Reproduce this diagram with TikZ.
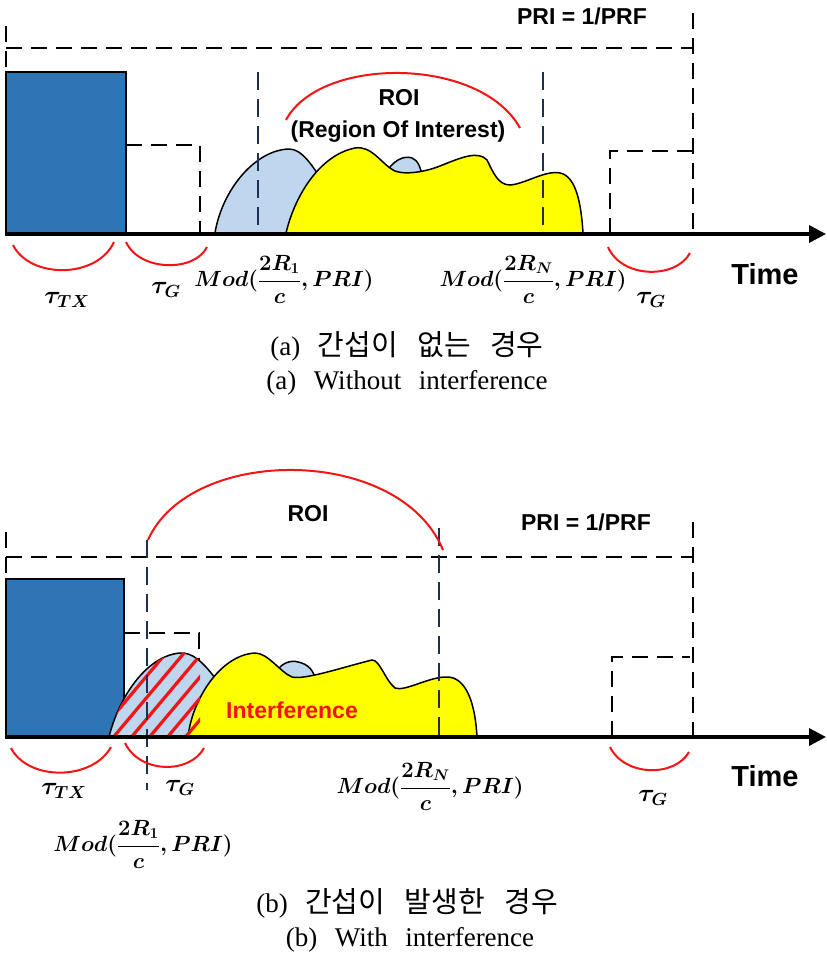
\RequirePackage{fix-cm}
\documentclass[tikz,border=0pt]{standalone}
\usepackage{amsmath,amssymb}
\usepackage{fontspec}
\setmainfont{Liberation Serif}
\newfontfamily\capfont{Liberation Serif}[WordSpace=2.6]
\newfontfamily\krfont{Noto Sans CJK KR}[WordSpace=3]
\newfontfamily\lblfont{Liberation Sans}
\usepackage{tikz}
\usetikzlibrary{arrows.meta,positioning}
\definecolor{RDtx}{RGB}{46,117,182}
\definecolor{RDecho}{RGB}{190,215,238}
\definecolor{RDyellow}{RGB}{255,255,0}
\definecolor{RDred}{RGB}{245,20,20}
\definecolor{RDnavy}{RGB}{30,48,80}
\tikzset{
  txbox/.style={draw=black,line width=1.8pt,fill=RDtx},
  gate/.style={draw=black,line width=2.2pt,dash pattern=on 16pt off 9pt},
  rangeline/.style={draw=RDnavy,line width=1.1pt,dash pattern=on 18pt off 9pt},
  echo/.style={draw=black,line width=1.5pt,fill=RDecho},
  echoy/.style={draw=black,line width=1.5pt,fill=RDyellow},
  smile/.style={draw=RDred,line width=2pt},
  hatch/.style={draw=RDred,line width=3.2pt},
  timeaxis/.style={-{Triangle[length=17pt,width=17pt]},line width=3.5pt},
  sanslbl/.style={inner sep=0pt,font=\lblfont\bfseries\fontsize{23}{27}\selectfont},
  timelbl/.style={inner sep=0pt,font=\lblfont\bfseries\fontsize{29}{33}\selectfont},
  mathlbl/.style={inner sep=0pt,font=\fontsize{22}{26}\selectfont},
  taulbl/.style={inner sep=0pt,font=\fontsize{25}{29}\selectfont},
  caplbl/.style={inner sep=0pt,font=\capfont\fontsize{27}{31}\selectfont}
}
\newcommand\krcap{\krfont\fontsize{29}{31}\selectfont}
\begin{document}
\begin{tikzpicture}[x=1pt,y=-1pt]
  \useasboundingbox[fill=white] (0,0) rectangle (827,962);
  % (a) without interference
  \draw[gate] (6,67) -- (6,20);
  \draw[gate] (6,48) -- (693,48);
  \draw[gate] (693,13) -- (693,234);
  \draw[gate] (126,145) -- (200,145) -- (200,234);
  \draw[gate] (610,234) -- (610,151) -- (693,151);
  \draw[txbox] (6,72) rectangle (126,234);
  \draw[echo] (215,233) .. controls (222,190) and (255,150) .. (289,149)
    .. controls (302,149) and (312,165) .. (325,185) -- (340,233) -- cycle;
  \draw[echo] (385,175) .. controls (392,160) and (405,155) .. (412,158)
    .. controls (418,160) and (421,168) .. (423,180) -- (423,200) -- (385,200) -- cycle;
  \draw[echoy] (286,233) .. controls (295,195) and (320,155) .. (355,148)
    .. controls (372,145) and (382,165) .. (395,171)
    .. controls (405,175) and (425,172) .. (440,166)
    .. controls (460,158) and (478,150) .. (487,160)
    .. controls (493,172) and (498,185) .. (510,185)
    .. controls (525,184) and (545,170) .. (560,173)
    .. controls (575,176) and (581,200) .. (583,233) -- cycle;
  \draw[rangeline] (258,72) -- (258,234);
  \draw[rangeline] (543,72) -- (543,234);
  \draw[smile] (286,120) .. controls (320,56) and (480,56) .. (520,128);
  \draw[smile] (13,245) .. controls (30,279) and (97,279) .. (114,242);
  \draw[smile] (126,242) .. controls (140,272) and (195,272) .. (207,247);
  \draw[smile] (608,247) .. controls (622,279) and (676,279) .. (690,253);
  \coordinate (a0) at (5,234);
  \coordinate (a1) at (826,234);
  \draw[timeaxis] (a0) -- (a1);
  \node[sanslbl] (priA) at (582,16) {PRI = 1/PRF};
  \node[sanslbl] (roiA) at (399,98) {ROI};
  \node[sanslbl] (regA) at (398,132) {(Region Of Interest)};
  \node[timelbl] (timeA) at (765,274) {Time};
  \node[taulbl] (txA) at (67,300) {$\boldsymbol{\tau_{TX}}$};
  \node[taulbl] (gA) at (166,290) {$\boldsymbol{\tau_{G}}$};
  \node[taulbl] (gA2) at (651,300) {$\boldsymbol{\tau_{G}}$};
  \node[mathlbl] (r1A) at (284,279) {$\displaystyle\boldsymbol{Mod(\frac{2R_1}{c},PRI)}$};
  \node[mathlbl] (rnA) at (533,279) {$\displaystyle\boldsymbol{Mod(\frac{2R_N}{c},PRI)}$};
  \node[caplbl] (krA) at (407,346) {(a) {\krcap 간섭이 없는 경우}};
  \node[caplbl] (enA) at (407,383) {(a) Without interference};
  % (b) with interference
  \draw[gate] (6,573) -- (6,527);
  \draw[gate] (6,557) -- (693,557);
  \draw[gate] (693,522) -- (693,737);
  \draw[gate] (124,633) -- (199,633) -- (199,737);
  \draw[gate] (612,737) -- (612,657) -- (690,657);
  \draw[txbox] (6,579) rectangle (124,737);
  \draw[echo] (109,737) .. controls (118,700) and (145,656) .. (180,653)
    .. controls (192,652) and (203,662) .. (215,678) -- (225,737) -- cycle;
  \draw[echo] (276,672) .. controls (282,662) and (292,660) .. (298,662)
    .. controls (308,664) and (314,670) .. (316,682) -- (316,700) -- (276,700) -- cycle;
  \draw[echoy] (188,737) .. controls (192,700) and (220,655) .. (255,653)
    .. controls (268,653) and (280,672) .. (292,677)
    .. controls (305,680) and (340,668) .. (372,660)
    .. controls (380,660) and (385,680) .. (395,688)
    .. controls (405,692) and (430,676) .. (448,677)
    .. controls (465,678) and (475,700) .. (477,737) -- cycle;
  \begin{scope}
    \clip (109,737) .. controls (118,700) and (145,656) .. (180,653)
      .. controls (192,652) and (203,662) .. (215,678) -- (225,737) -- cycle;
    \clip (100,640) rectangle (200,737);
    \foreach \hx in {93,111,...,200}
      \draw[hatch] (\hx,740) -- ++(84,-100);
  \end{scope}
  \draw[rangeline] (147,540) -- (147,790);
  \draw[rangeline] (439,528) -- (439,737);
  \draw[smile] (148,540) .. controls (190,445) and (400,445) .. (443,550);
  \draw[smile] (11,748) .. controls (28,781) and (92,781) .. (111,747);
  \draw[smile] (125,743) .. controls (140,774) and (190,774) .. (204,748);
  \draw[smile] (610,747) .. controls (625,777) and (675,777) .. (689,752);
  \coordinate (b0) at (5,737);
  \coordinate (b1) at (826,737);
  \draw[timeaxis] (b0) -- (b1);
  \node[sanslbl] (roiB) at (308,514) {ROI};
  \node[sanslbl] (priB) at (586,522) {PRI = 1/PRF};
  \node[sanslbl,text=RDred] (intf) at (292,710) {Interference};
  \node[timelbl] (timeB) at (765,776) {Time};
  \node[taulbl] (txB) at (64,791) {$\boldsymbol{\tau_{TX}}$};
  \node[taulbl] (gB) at (180,788) {$\boldsymbol{\tau_{G}}$};
  \node[taulbl] (gB2) at (653,798) {$\boldsymbol{\tau_{G}}$};
  \node[mathlbl] (r1B) at (143,844) {$\displaystyle\boldsymbol{Mod(\frac{2R_1}{c},PRI)}$};
  \node[mathlbl] (rnB) at (430,786) {$\displaystyle\boldsymbol{Mod(\frac{2R_N}{c},PRI)}$};
  \node[caplbl] (krB) at (407,903) {(b) {\krcap 간섭이 발생한 경우}};
  \node[caplbl] (enB) at (410,940) {(b) With interference};
\end{tikzpicture}
\end{document}
